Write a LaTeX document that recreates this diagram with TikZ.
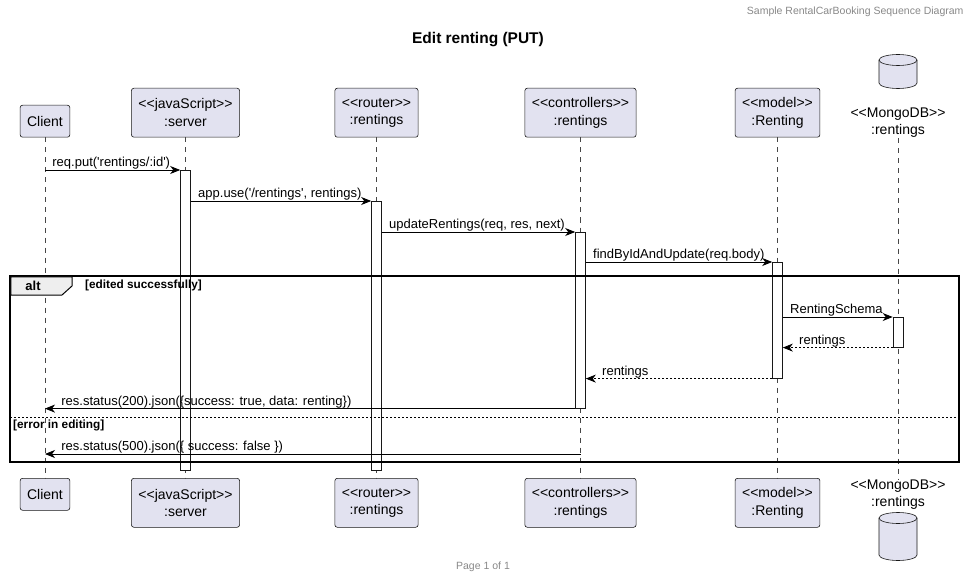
\documentclass[tikz,border=0pt]{standalone}
\usepackage{fontspec}
\setmainfont{Liberation Sans}[Ligatures=TeXOff]
\usetikzlibrary{arrows.meta}
\definecolor{partfill}{HTML}{E2E2F0}
\definecolor{partline}{HTML}{181818}
\definecolor{pagegray}{HTML}{888888}
\definecolor{tabfill}{HTML}{EEEEEE}
\begin{document}
\begin{tikzpicture}[x=1pt,y=-1pt,
  part/.style={draw=partline,fill=partfill,rounded corners=2.5pt,line width=0.6pt,align=center,
    font=\fontsize{14}{17.5}\selectfont,inner xsep=7pt,inner ysep=3pt,minimum height=32pt},
  twoline/.style={part,minimum height=49pt},
  dblabel/.style={align=center,font=\fontsize{14}{17}\selectfont,inner sep=1pt},
  life/.style={partline!80,line width=0.5pt,dash pattern=on 5pt off 5pt},
  actbar/.style={draw=partline,fill=white,line width=0.6pt,minimum width=10pt,inner sep=0pt,anchor=north},
  msg/.style={line width=0.8pt,-{Stealth[length=10pt,width=8pt,inset=3pt]}},
  ret/.style={msg,dash pattern=on 2pt off 2pt},
  txt/.style={font=\fontsize{13}{15}\selectfont,inner sep=1pt},
  frame/.style={line width=1.5pt},
  flabel/.style={font=\bfseries\fontsize{11.8}{13}\selectfont,inner sep=1pt}]
\useasboundingbox (0,0) rectangle (974,580);
% header, title, footer
\node[anchor=east,text=pagegray,font=\fontsize{10.5}{12}\selectfont] (head) at (967,12) {Sample RentalCarBooking Sequence Diagram};
\node[font=\bfseries\fontsize{15.5}{18}\selectfont] (title) at (478,39.5) {Edit renting (PUT)};
\node[text=pagegray,font=\fontsize{10.5}{12}\selectfont] (foot) at (483,567) {Page 1 of 1};
% participants (top)
\node[part,anchor=south] (client) at (45,137.5) {Client};
\node[twoline,anchor=south] (server) at (185.5,137.5) {<<javaScript>>\\:server};
\node[twoline,anchor=south] (router) at (376.5,137.5) {<<router>>\\:rentings};
\node[twoline,anchor=south] (ctl) at (580.5,137.5) {<<controllers>>\\:rentings};
\node[twoline,anchor=south] (model) at (777.5,137.5) {<<model>>\\:Renting};
\node[dblabel,anchor=south] (db) at (898,138.5) {<<MongoDB>>\\:rentings};
\draw[draw=partline,fill=partfill,line width=0.6pt] (879,60) -- (879,83) arc[start angle=180,end angle=0,x radius=19,y radius=5.5]
  -- (917,60) arc[start angle=0,end angle=-180,x radius=19,y radius=5.5] -- cycle;
\draw[partline,line width=0.6pt] (879,60) arc[start angle=180,end angle=0,x radius=19,y radius=5.5];
% participants (bottom)
\node[part,anchor=north] (client2) at (45,478) {Client};
\node[twoline,anchor=north] (server2) at (185.5,478) {<<javaScript>>\\:server};
\node[twoline,anchor=north] (router2) at (376.5,478) {<<router>>\\:rentings};
\node[twoline,anchor=north] (ctl2) at (580.5,478) {<<controllers>>\\:rentings};
\node[twoline,anchor=north] (model2) at (777.5,478) {<<model>>\\:Renting};
\node[dblabel,anchor=north] (db2) at (898,479) {<<MongoDB>>\\:rentings};
\draw[draw=partline,fill=partfill,line width=0.6pt] (879,518) -- (879,555) arc[start angle=180,end angle=0,x radius=19,y radius=5.5]
  -- (917,518) arc[start angle=0,end angle=-180,x radius=19,y radius=5.5] -- cycle;
\draw[partline,line width=0.6pt] (879,518) arc[start angle=180,end angle=0,x radius=19,y radius=5.5];
% lifelines
\draw[life] (client.south) -- (client2.north);
\draw[life] (server.south) -- (server2.north);
\draw[life] (router.south) -- (router2.north);
\draw[life] (ctl.south) -- (ctl2.north);
\draw[life] (model.south) -- (model2.north);
\draw[life] (db.south) -- (db2.north);
% activations
\node[actbar,minimum height=300pt] (srvact) at (185.5,170) {};
\node[actbar,minimum height=269pt] (rtact) at (376.5,201) {};
\node[actbar,minimum height=176pt] (ctlact) at (580.5,232) {};
\node[actbar,minimum height=116pt] (mdlact) at (777.5,262) {};
\node[actbar,minimum height=30pt] (dbact) at (898,317) {};
% alt frame
\draw[frame] (10,276) rectangle (959,462);
\draw[line width=1pt,fill=tabfill] (10.75,276.75) -- (72,276.75) -- (72,286) -- (62,295) -- (10.75,295) -- cycle;
\node[font=\bfseries\fontsize{13}{15}\selectfont,inner sep=0pt] (alt) at (33,285.5) {alt};
\node[flabel,anchor=west] (g1) at (84,285.5) {[edited successfully]};
\draw[line width=0.6pt,dash pattern=on 2pt off 2pt] (10,417) -- (959,417);
\node[flabel,anchor=west] (g2) at (12,425) {[error in editing]};
% messages
\draw[msg] (client |- srvact.north) -- (srvact.north west) node[txt,pos=0,above right,xshift=6pt,yshift=-1pt] {req.put('rentings/:id')};
\draw[msg] (srvact.east |- rtact.north) -- (rtact.north west) node[txt,pos=0,above right,xshift=6pt,yshift=-1pt] {app.use('/rentings', rentings)};
\draw[msg] (rtact.east |- ctlact.north) -- (ctlact.north west) node[txt,pos=0,above right,xshift=6pt,yshift=-1pt] {updateRentings(req, res, next)};
\draw[msg] (ctlact.east |- mdlact.north) -- (mdlact.north west) node[txt,pos=0,above right,xshift=6pt,yshift=-1pt] {findByIdAndUpdate(req.body)};
\draw[msg] (mdlact.east |- dbact.north) -- (dbact.north west) node[txt,pos=0,above right,xshift=6pt,yshift=-1pt] {RentingSchema};
\draw[ret] (dbact.south west) -- (mdlact.east |- dbact.south) node[txt,pos=1,above right,xshift=15pt,yshift=-1pt] {rentings};
\draw[ret] (mdlact.south west) -- (ctlact.east |- mdlact.south) node[txt,pos=1,above right,xshift=15pt,yshift=-1pt] {rentings};
\draw[msg] (ctlact.south west) -- (client |- ctlact.south) node[txt,pos=1,above right,xshift=15pt,yshift=-1pt] {res.status(200).json(\{success: true, data: renting\})};
\coordinate (err) at (580.5,454);
\draw[msg] (err) -- (client |- err) node[txt,pos=1,above right,xshift=15pt,yshift=-1pt] {res.status(500).json(\{ success: false \})};
\end{tikzpicture}
\end{document}
